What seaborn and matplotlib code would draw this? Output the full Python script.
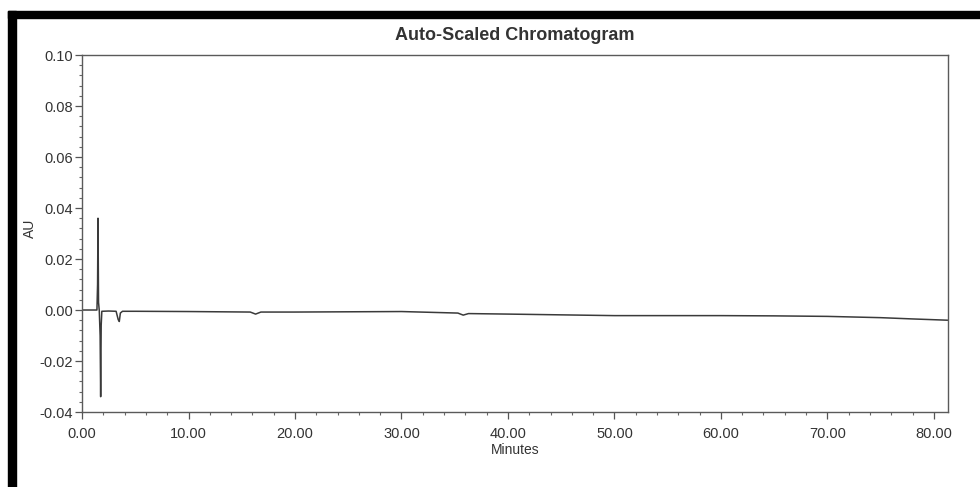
import numpy as np
import pandas as pd
import matplotlib
matplotlib.use("Agg")
import matplotlib.pyplot as plt
import seaborn as sns
from matplotlib.ticker import MultipleLocator, FormatStrFormatter
from matplotlib.patches import Rectangle

# retention time (min) and detector response (AU)
time_min = [0.00, 1.40, 1.46, 1.50, 1.55, 1.62, 1.70, 1.75, 1.80, 1.86,
            2.50, 3.20, 3.40, 3.50, 3.60, 3.80, 5.00, 10.00, 15.80, 16.30,
            16.80, 20.00, 25.00, 30.00, 35.30, 35.80, 36.30, 40.00, 45.00,
            50.00, 55.00, 60.00, 65.00, 70.00, 75.00, 78.00, 81.30]
au = [0.0000, 0.0000, 0.0100, 0.0360, 0.0030, -0.0002, -0.0100, -0.0340,
      -0.0060, -0.0005, -0.0004, -0.0005, -0.0038, -0.0045, -0.0012,
      -0.0005, -0.0005, -0.0006, -0.0008, -0.0016, -0.0008, -0.0008,
      -0.0007, -0.0006, -0.0012, -0.0020, -0.0014, -0.0016, -0.0019,
      -0.0022, -0.0022, -0.0022, -0.0023, -0.0025, -0.0030, -0.0035,
      -0.0040]

x_ticks = [0, 10, 20, 30, 40, 50, 60, 70, 80]
y_ticks = [-0.04, -0.02, 0.00, 0.02, 0.04, 0.06, 0.08, 0.10]

df = pd.DataFrame({"Minutes": time_min, "AU": au})

sns.set_style("white")
plt.rcParams["font.family"] = ["Liberation Sans", "DejaVu Sans"]

fig = plt.figure(figsize=(9.8, 4.87), dpi=100)
ax = fig.add_axes([0.0837, 0.154, 0.8833, 0.733])

sns.lineplot(data=df, x="Minutes", y="AU", estimator=None, sort=False,
             color="#3a3a3a", linewidth=1.1, ax=ax)

ax.set_xlim(0, 81.3)
ax.set_ylim(-0.04, 0.10)
ax.set_xticks(x_ticks)
ax.set_yticks(y_ticks)
ax.xaxis.set_major_formatter(FormatStrFormatter("%.2f"))
ax.yaxis.set_major_formatter(FormatStrFormatter("%.2f"))
ax.xaxis.set_minor_locator(MultipleLocator(2))
ax.yaxis.set_minor_locator(MultipleLocator(0.004))

ax.tick_params(axis="both", which="major", direction="out", length=5,
               width=0.9, color="#555555", labelcolor="#333333")
ax.tick_params(axis="x", which="major", labelsize=10.5, pad=6)
ax.tick_params(axis="y", which="major", labelsize=10.5, pad=1.5)
ax.tick_params(axis="both", which="minor", direction="out", length=2.5,
               width=0.8, color="#666666")
ax.tick_params(axis="x", which="both", bottom=True)
ax.tick_params(axis="y", which="both", left=True)

for s in ax.spines.values():
    s.set_color("#5a5a5a")
    s.set_linewidth(1.0)

ax.set_xlabel("Minutes", fontsize=10, color="#333333", labelpad=1)
ax.set_ylabel("AU", fontsize=10, color="#333333")
ax.yaxis.set_label_coords(-0.052, 0.515)
ax.set_title("Auto-Scaled Chromatogram", fontsize=13, fontweight="bold",
             color="#333333", pad=11)

# black scan border along top and left
fig.patches.append(Rectangle((8 / 980, 0), 8 / 980, 1 - 11 / 487,
                             transform=fig.transFigure, color="black",
                             zorder=10))
fig.patches.append(Rectangle((8 / 980, 1 - 18 / 487), 1 - 8 / 980, 7 / 487,
                             transform=fig.transFigure, color="black",
                             zorder=10))

fig.savefig("out.png", dpi=100, facecolor="white")
